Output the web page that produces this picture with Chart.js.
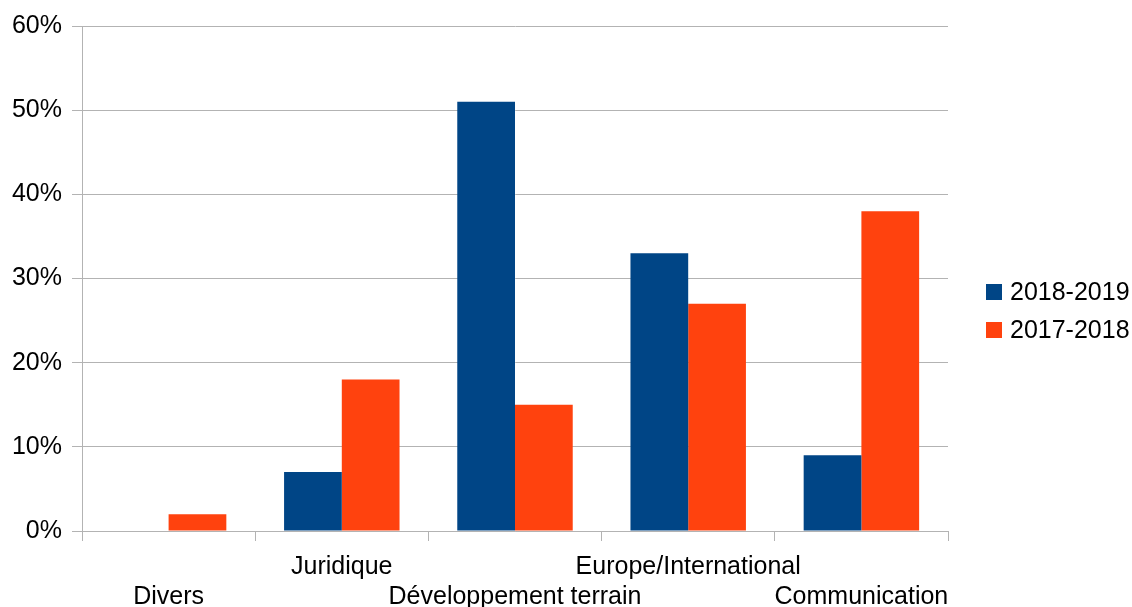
<!DOCTYPE html>
<html>
  <head>
    <meta charset="utf-8" />
    <title>Répartition</title>
    <script src="https://cdn.jsdelivr.net/npm/chart.js"></script>
    <style>
      html, body { margin: 0; padding: 0; background: #fff; }
      #wrap { position: relative; width: 1132px; height: 607px; }
    </style>
  </head>
  <body>
    <div id="wrap">
      <canvas id="barChart"></canvas>
    </div>
    <script type="text/javascript">
      var categories = ['Divers', 'Juridique', 'Développement terrain', 'Europe/International', 'Communication']
      var seriesNames = ['2018-2019', '2017-2018']
      var values2018 = [0, 7, 51, 33, 9]
      var values2017 = [2, 18, 15, 27, 38]
      var yTicks = [0, 10, 20, 30, 40, 50, 60]

      Chart.defaults.font.family = '"Liberation Sans", Arial, sans-serif'
      Chart.defaults.font.size = 25
      Chart.defaults.color = '#000'

      // legend drawn by hand, to the right of the plot (LibreOffice style)
      var sideLegend = {
        id: 'sideLegend',
        afterDraw: function(chart) {
          var c = chart.ctx
          var area = chart.chartArea
          var x = area.right + 38
          var y0 = 292
          c.save()
          c.font = '25px "Liberation Sans", Arial, sans-serif'
          c.textBaseline = 'middle'
          c.textAlign = 'left'
          chart.data.datasets.forEach(function(ds, i) {
            var y = y0 + i * 38
            c.fillStyle = ds.backgroundColor
            c.fillRect(x, y - 8, 16, 16)
            c.fillStyle = '#000'
            c.fillText(ds.label, x + 24, y + 1)
          })
          c.restore()
        }
      }

      var ctx = document.getElementById('barChart').getContext('2d')
      new Chart(ctx, {
        type: 'bar',
        data: {
          labels: categories,
          datasets: [{
            label: seriesNames[0],
            data: values2018,
            backgroundColor: '#004586',
            categoryPercentage: 2 / 3,
            barPercentage: 1.0
          }, {
            label: seriesNames[1],
            data: values2017,
            backgroundColor: '#ff420e',
            categoryPercentage: 2 / 3,
            barPercentage: 1.0
          }]
        },
        plugins: [sideLegend],
        options: {
          responsive: true,
          maintainAspectRatio: false,
          animation: false,
          layout: { padding: { top: 26, right: 184, left: 0, bottom: 0 } },
          plugins: {
            tooltip: { enabled: false },
            legend: { display: false }
          },
          scales: {
            x: {
              grid: {
                offset: true,
                drawOnChartArea: true,
                color: function(c) { return c.index === categories.length ? '#b3b3b3' : 'rgba(0,0,0,0)' },
                tickColor: '#b3b3b3',
                tickLength: 10
              },
              border: { color: '#b3b3b3' },
              ticks: {
                autoSkip: false,
                maxRotation: 0,
                padding: 11,
                font: { size: 25, lineHeight: '30px' },
                callback: function(v, i) {
                  var name = categories[i]
                  return i % 2 === 0 ? ['', name] : [name, '']
                }
              },
              afterFit: function(scale) { scale.height = 76 }
            },
            y: {
              min: 0,
              max: 60,
              afterBuildTicks: function(scale) {
                scale.ticks = yTicks.map(function(v) { return { value: v } })
              },
              grid: {
                color: '#b3b3b3',
                tickColor: '#b3b3b3',
                tickLength: 10
              },
              border: { color: '#b3b3b3' },
              ticks: {
                padding: 10,
                callback: function(v) { return v + '%' }
              },
              afterFit: function(scale) { scale.width = 82 }
            }
          }
        }
      })
    </script>
  </body>
</html>
